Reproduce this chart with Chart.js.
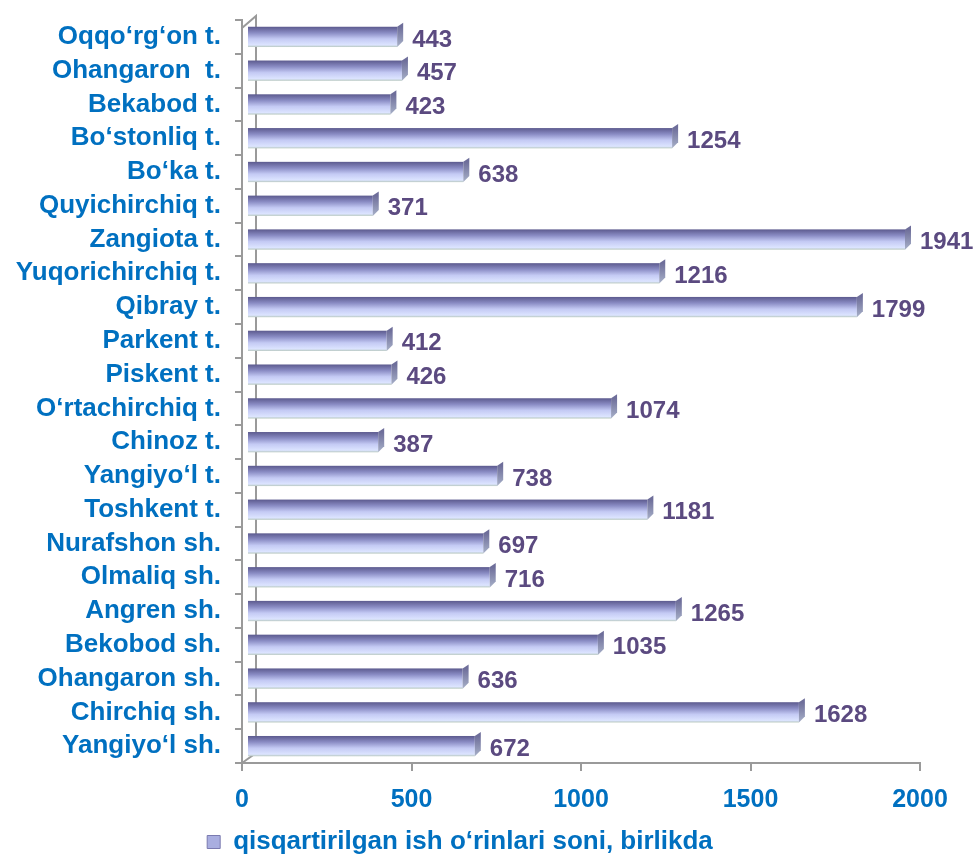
<!DOCTYPE html>
<html>
<head>
<meta charset="utf-8">
<script src="https://cdn.jsdelivr.net/npm/chart.js@4.4.1/dist/chart.umd.min.js"></script>
<style>
  html, body { margin: 0; padding: 0; background: #fff; }
  #wrap { width: 977px; height: 854px; }
</style>
</head>
<body>
<div id="wrap"><canvas id="chart" width="977" height="854"></canvas></div>
<script>
const districts = [
    'Oqqo‘rg‘on t.', 'Ohangaron  t.', 'Bekabod t.', 'Bo‘stonliq t.', 'Bo‘ka t.',
    'Quyichirchiq t.', 'Zangiota t.', 'Yuqorichirchiq t.', 'Qibray t.', 'Parkent t.',
    'Piskent t.', 'O‘rtachirchiq t.', 'Chinoz t.', 'Yangiyo‘l t.', 'Toshkent t.',
    'Nurafshon sh.', 'Olmaliq sh.', 'Angren sh.', 'Bekobod sh.', 'Ohangaron sh.',
    'Chirchiq sh.', 'Yangiyo‘l sh.'
];
const jobsCut = [
    443, 457, 423, 1254, 638,
    371, 1941, 1216, 1799, 412,
    426, 1074, 387, 738, 1181,
    697, 716, 1265, 1035, 636,
    1628, 672
];
const xTicks = [0, 500, 1000, 1500, 2000];
const seriesName = 'qisqartirilgan ish o‘rinlari soni, birlikda';

const blue = '#0070C0';
const purple = '#5B4A80';
const axisGray = '#9A9A9A';
const fontFam = '"Liberation Sans", Arial, sans-serif';

// 3D look: walls + gradient bars with a side cap
const barStyle = {
    id: 'barStyle',
    beforeDatasetsDraw(chart) {
        const { ctx, chartArea: a } = chart;
        ctx.save();
        ctx.strokeStyle = axisGray;
        ctx.lineWidth = 2;
        ctx.beginPath();
        ctx.moveTo(a.left, a.top + 8);
        ctx.lineTo(a.left + 14, a.top - 4);
        ctx.lineTo(a.left + 14, a.bottom - 10);
        ctx.lineTo(a.left, a.bottom);
        ctx.stroke();
        ctx.restore();
    },
    afterDatasetsDraw(chart) {
        const { ctx } = chart;
        const meta = chart.getDatasetMeta(0);
        ctx.save();
        meta.data.forEach((bar, i) => {
            const h = bar.height;
            const top = bar.y - h / 2;
            const left = bar.base + 5;
            const right = bar.x + 5;
            const g = ctx.createLinearGradient(0, top, 0, top + h);
            g.addColorStop(0, '#5C5A8E');
            g.addColorStop(0.3, '#8A8CC4');
            g.addColorStop(0.6, '#C4CAF4');
            g.addColorStop(0.9, '#DCE4FF');
            g.addColorStop(1, '#B8C8C0');
            ctx.fillStyle = g;
            ctx.fillRect(left, top, right - left, h);
            // side cap
            ctx.beginPath();
            ctx.moveTo(right, top);
            ctx.lineTo(right + 6, top - 4);
            ctx.lineTo(right + 6, top + h - 6);
            ctx.lineTo(right, top + h);
            ctx.closePath();
            const s = ctx.createLinearGradient(0, top, 0, top + h);
            s.addColorStop(0, '#6E6E9A');
            s.addColorStop(1, '#A7B0C8');
            ctx.fillStyle = s;
            ctx.fill();
            // value label
            ctx.fillStyle = purple;
            ctx.font = 'bold 24px ' + fontFam;
            ctx.textAlign = 'left';
            ctx.textBaseline = 'middle';
            ctx.fillText(String(jobsCut[i]), right + 15, bar.y + 3);
        });
        ctx.restore();
    }
};

const chart = new Chart(document.getElementById('chart'), {
    type: 'bar',
    data: {
        labels: districts,
        datasets: [{
            label: seriesName,
            data: jobsCut,
            backgroundColor: 'rgba(0,0,0,0)',
            borderWidth: 0,
            categoryPercentage: 1,
            barPercentage: 0.6
        }]
    },
    options: {
        indexAxis: 'y',
        responsive: false,
        animation: false,
        layout: { padding: { top: 20, right: 57, left: 0, bottom: -11 } },
        scales: {
            x: {
                min: 0,
                max: 2000,
                afterBuildTicks: (axis) => { axis.ticks = xTicks.map(v => ({ value: v })); },
                grid: { drawOnChartArea: false, tickLength: 8, color: axisGray, lineWidth: 2 },
                border: { color: axisGray, width: 2 },
                ticks: {
                    color: blue,
                    padding: 14,
                    callback: (v) => String(v),
                    font: { family: fontFam, size: 25, weight: 'bold' }
                }
            },
            y: {
                offset: true,
                afterFit: (axis) => {
                    axis.width = 242;
                    axis.paddingTop = 0;
                    axis.paddingBottom = 0;
                },
                grid: { drawOnChartArea: false, offset: true, tickLength: 7, color: axisGray, lineWidth: 2 },
                border: { color: axisGray, width: 2 },
                ticks: {
                    color: blue,
                    padding: 14,
                    autoSkip: false,
                    font: { family: fontFam, size: 26, weight: 'bold' }
                }
            }
        },
        plugins: {
            legend: {
                position: 'bottom',
                labels: {
                    color: blue,
                    boxWidth: 13,
                    boxHeight: 13,
                    padding: 0,
                    font: { family: fontFam, size: 26, weight: 'bold' },
                    generateLabels: () => [{
                        text: seriesName,
                        fillStyle: '#A9AEE0',
                        strokeStyle: '#7A7AB0',
                        lineWidth: 1,
                        fontColor: blue
                    }]
                }
            },
            tooltip: { enabled: false }
        }
    },
    plugins: [barStyle]
});
</script>
</body>
</html>
